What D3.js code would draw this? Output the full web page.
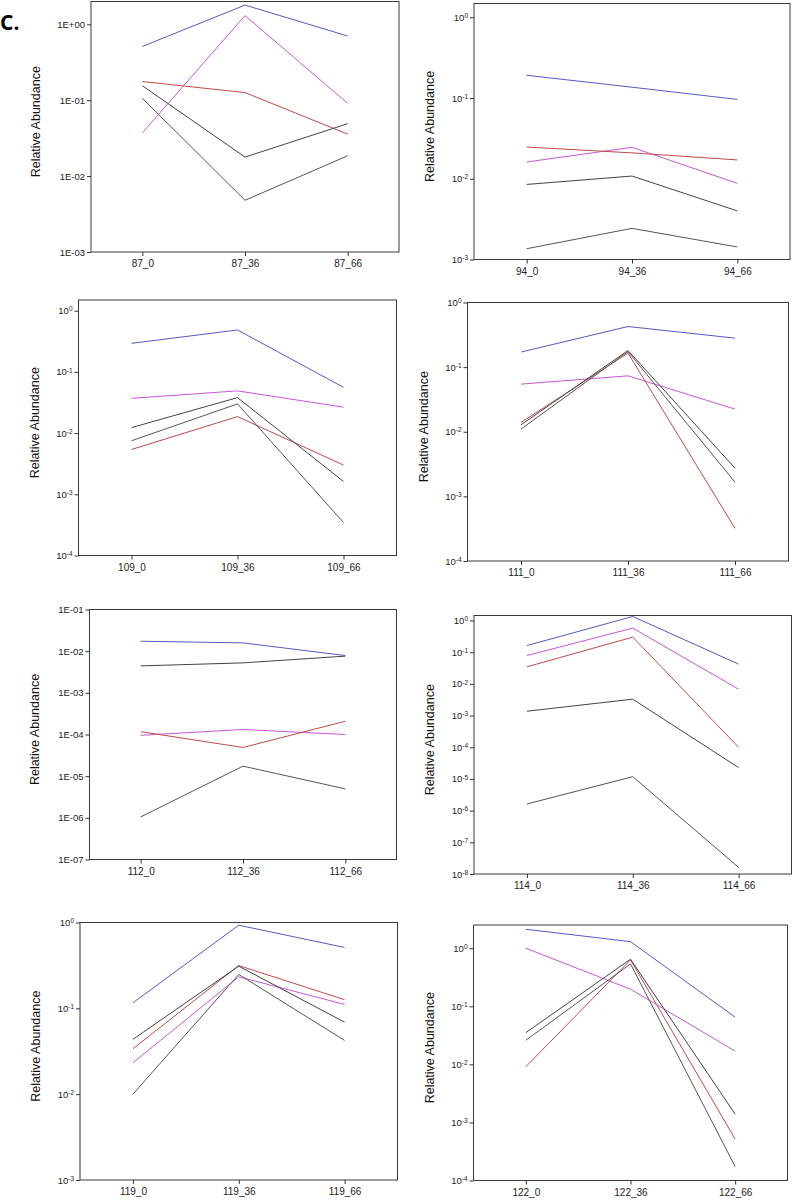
<!DOCTYPE html>
<html>
<head>
<meta charset="utf-8">
<script src="https://cdn.jsdelivr.net/npm/d3@7"></script>
<style>
  body { margin: 0; background: #fff; }
  svg { display: block; font-family: "Liberation Sans", Arial, sans-serif; }
</style>
</head>
<body>
<div id="chart"></div>
<script>
// Sample ids, one panel each, and the three time points
const samples = ["87", "94", "109", "111", "112", "114", "119", "122"];
const timepoints = ["0", "36", "66"];

// Relative abundance per panel (rows follow samples order)
const blueSeries = [
  [0.51, 1.79, 0.70],
  [0.191, 0.136, 0.096],
  [0.293, 0.484, 0.056],
  [0.171, 0.425, 0.281],
  [0.0173, 0.0158, 0.00785],
  [0.162, 1.34, 0.042],
  [0.116, 0.93, 0.512],
  [2.12, 1.30, 0.065]
];
const magentaSeries = [
  [0.037, 1.30, 0.091],
  [0.0161, 0.0245, 0.00877],
  [0.037, 0.049, 0.0265],
  [0.0546, 0.0733, 0.0224],
  [0.0000955, 0.000132, 0.0001],
  [0.0785, 0.575, 0.0068],
  [0.0232, 0.233, 0.111],
  [1.0, 0.197, 0.0169]
];
const redSeries = [
  [0.176, 0.126, 0.0357],
  [0.0247, 0.0209, 0.0171],
  [0.0054, 0.0186, 0.0030],
  [0.0139, 0.165, 0.00032],
  [0.000117, 0.0000488, 0.000208],
  [0.0345, 0.299, 0.0001],
  [0.0338, 0.315, 0.126],
  [0.0091, 0.63, 0.000517]
];
const darkSeriesA = [
  [0.155, 0.0178, 0.049],
  [0.0085, 0.0108, 0.0040],
  [0.0123, 0.038, 0.00162],
  [0.0128, 0.181, 0.00273],
  [0.00443, 0.00524, 0.0076],
  [0.00137, 0.00329, 0.0000228],
  [0.0435, 0.31, 0.069],
  [0.0352, 0.646, 0.00139]
];
const darkSeriesB = [
  [0.106, 0.0048, 0.0185],
  [0.00136, 0.00243, 0.00143],
  [0.0075, 0.030, 0.000346],
  [0.011, 0.174, 0.00166],
  [0.00000105, 0.0000174, 0.00000495],
  [0.00000162, 0.0000118, 0.0000000162],
  [0.01, 0.248, 0.0423],
  [0.026, 0.537, 0.000174]
];

// y axis range (decade exponents) and tick label style per panel
const yExpMin = [-3, -3, -4, -4, -7, -8, -3, -4];
const yExpMax = [0.3, 0.17, 0.175, 0, -1, 0.158, 0, 0.4];
const tickStyle = ["E", "sup", "sup", "sup", "E", "sup", "sup", "sup"];

// plot boxes: [left, top, right, bottom]
const boxes = [
  [91, 1.5, 399, 252],
  [474, 3.5, 790, 259.5],
  [78.5, 300, 396.5, 555.5],
  [467.5, 302.5, 788.5, 561],
  [89.5, 609.5, 396.5, 859.5],
  [474, 615.5, 791.5, 874],
  [80, 922.5, 397.5, 1180],
  [473.5, 925, 787.5, 1180.5]
];

const series = [
  { rows: blueSeries, color: "#5858c4" },
  { rows: magentaSeries, color: "#c957d6" },
  { rows: redSeries, color: "#c24a4a" },
  { rows: darkSeriesA, color: "#444" },
  { rows: darkSeriesB, color: "#555" }
];

const width = 794, height = 1200;

const svg = d3.select("#chart").append("svg")
    .attr("width", width)
    .attr("height", height);

svg.append("text")
    .attr("x", 0)
    .attr("y", 30)
    .style("font-family", "'Open Sans', sans-serif")
    .style("font-weight", 700)
    .style("font-size", "21px")
    .text("C.");

samples.forEach((id, p) => {
  const [left, top, right, bottom] = boxes[p];
  const labels = timepoints.map(t => `${id}_${t}`);

  const x = d3.scalePoint()
      .domain(labels)
      .range([left, right])
      .padding(0.5);

  const y = d3.scaleLog()
      .domain([10 ** yExpMin[p], 10 ** yExpMax[p]])
      .range([bottom, top]);

  const g = svg.append("g");

  // frame
  g.append("rect")
      .attr("x", left)
      .attr("y", top)
      .attr("width", right - left)
      .attr("height", bottom - top)
      .attr("fill", "none")
      .attr("stroke", "#3a3a3a")
      .attr("stroke-width", 1);

  // y axis
  const exps = d3.range(yExpMin[p], Math.floor(yExpMax[p] + 1e-9) + 1);
  const yAxis = d3.axisLeft(y)
      .tickValues(exps.map(e => 10 ** e))
      .tickSize(4)
      .tickSizeOuter(0)
      .tickPadding(2);

  const ya = g.append("g")
      .attr("transform", `translate(${left},0)`)
      .call(yAxis);
  ya.select(".domain").remove();
  ya.selectAll(".tick line").attr("stroke", "#333");
  ya.selectAll(".tick text")
      .attr("fill", "#222")
      .style("font-size", "9.5px")
      .each(function(d, i) {
        const e = exps[i];
        const t = d3.select(this);
        t.text(null);
        if (tickStyle[p] === "E") {
          const sign = e >= 0 ? "+" : "-";
          t.text(`1E${sign}${String(Math.abs(e)).padStart(2, "0")}`);
        } else {
          t.append("tspan").text("10");
          t.append("tspan")
              .attr("dy", "-0.45em")
              .style("font-size", "6.5px")
              .text(String(e));
        }
      });

  // x axis
  const xa = g.append("g")
      .attr("transform", `translate(0,${bottom})`)
      .call(d3.axisBottom(x).tickSize(4).tickSizeOuter(0).tickPadding(4));
  xa.select(".domain").remove();
  xa.selectAll(".tick line").attr("stroke", "#333");
  xa.selectAll(".tick text")
      .attr("fill", "#222")
      .style("font-size", "10px");

  // y label
  const offset = tickStyle[p] === "E" ? 55 : 44;
  g.append("text")
      .attr("transform", `translate(${left - offset},${(top + bottom) / 2 - 5}) rotate(-90)`)
      .attr("text-anchor", "middle")
      .attr("dy", "0.35em")
      .attr("fill", "#111")
      .style("font-size", "12.5px")
      .text("Relative Abundance");

  // lines
  const line = d3.line()
      .x((v, i) => x(labels[i]))
      .y(v => y(v));

  series.forEach(s => {
    g.append("path")
        .datum(s.rows[p])
        .attr("fill", "none")
        .attr("stroke", s.color)
        .attr("stroke-width", 1)
        .attr("d", line);
  });
});
</script>
</body>
</html>
